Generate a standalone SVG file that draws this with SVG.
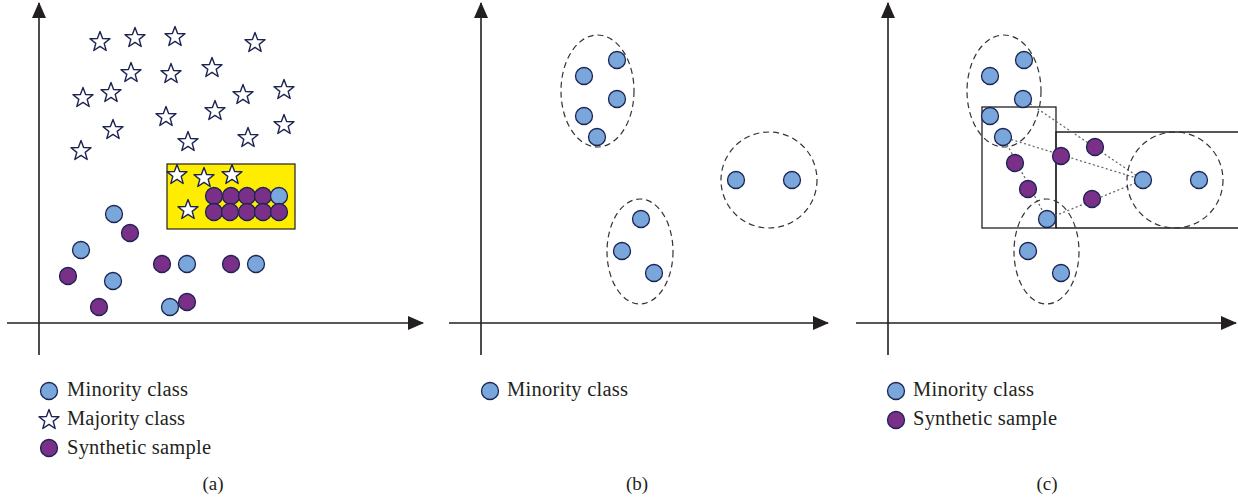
<svg xmlns="http://www.w3.org/2000/svg" xmlns:xlink="http://www.w3.org/1999/xlink" width="1238" height="500" viewBox="0 0 1238 500">
<style>
.ax{stroke:#231f20;stroke-width:1.6;fill:none}
.mn{fill:#79a7db;stroke:#1c2452;stroke-width:1.3}
.sy{fill:#7a2f88;stroke:#1c2452;stroke-width:1.3}
.st{fill:#ffffff;stroke:#1c2452;stroke-width:1.4;stroke-linejoin:round}
.dash{fill:none;stroke:#333333;stroke-width:1.2;stroke-dasharray:6 4}
.dot{fill:none;stroke:#666666;stroke-width:1.3;stroke-dasharray:1 3.5;stroke-linecap:round}
.box{fill:none;stroke:#231f20;stroke-width:1.3}
.lg{font-family:"Liberation Serif","Times New Roman",serif;font-size:20.5px;fill:#231f20}
.cap{font-family:"Liberation Serif","Times New Roman",serif;font-size:19px;fill:#231f20;text-anchor:middle}
</style>
<defs>
<marker id="arr" viewBox="0 0 16 14" refX="15" refY="7" markerWidth="16" markerHeight="14" markerUnits="userSpaceOnUse" orient="auto">
<path d="M0,0 L16,7 L0,14 Z" fill="#231f20"/>
</marker>
<path id="star" d="M0,-10.5 L2.6,-3.55 L10,-3.25 L4.2,1.35 L6.17,8.5 L0,4.4 L-6.17,8.5 L-4.2,1.35 L-10,-3.25 L-2.6,-3.55 Z"/>
</defs>
<rect width="1238" height="500" fill="#ffffff"/>

<!-- Panel (a) -->
<g id="axes-a">
<line class="ax" x1="39" y1="355" x2="39" y2="3" marker-end="url(#arr)"/>
<line class="ax" x1="7" y1="323" x2="423" y2="323" marker-end="url(#arr)"/>
</g>
<g id="majority-a">
<use href="#star" class="st" x="100" y="42"/>
<use href="#star" class="st" x="135" y="38"/>
<use href="#star" class="st" x="175" y="37"/>
<use href="#star" class="st" x="255" y="43"/>
<use href="#star" class="st" x="131" y="73"/>
<use href="#star" class="st" x="171" y="74"/>
<use href="#star" class="st" x="212" y="68"/>
<use href="#star" class="st" x="83" y="98"/>
<use href="#star" class="st" x="111" y="93"/>
<use href="#star" class="st" x="243" y="95"/>
<use href="#star" class="st" x="284" y="90"/>
<use href="#star" class="st" x="166" y="117"/>
<use href="#star" class="st" x="215" y="111"/>
<use href="#star" class="st" x="113" y="130"/>
<use href="#star" class="st" x="188" y="142"/>
<use href="#star" class="st" x="248" y="138"/>
<use href="#star" class="st" x="284" y="125"/>
<use href="#star" class="st" x="81" y="151"/>
</g>
<g id="region-a">
<rect x="167" y="164" width="128" height="65" fill="#ffed00" stroke="#231f20" stroke-width="1.2"/>
<use href="#star" class="st" x="177" y="175"/>
<use href="#star" class="st" x="204" y="178"/>
<use href="#star" class="st" x="232" y="175"/>
<use href="#star" class="st" x="188" y="210"/>
<circle class="sy" cx="214" cy="196" r="8.5"/>
<circle class="sy" cx="231" cy="196" r="8.5"/>
<circle class="sy" cx="247" cy="196" r="8.5"/>
<circle class="sy" cx="263" cy="196" r="8.5"/>
<circle class="mn" cx="279" cy="196" r="8.5"/>
<circle class="sy" cx="214" cy="212" r="8.5"/>
<circle class="sy" cx="230" cy="212" r="8.5"/>
<circle class="sy" cx="247" cy="212" r="8.5"/>
<circle class="sy" cx="263" cy="212" r="8.5"/>
<circle class="sy" cx="279" cy="212" r="8.5"/>
</g>
<g id="points-a">
<circle class="mn" cx="114" cy="214" r="8.5"/>
<circle class="sy" cx="130" cy="233" r="8.5"/>
<circle class="mn" cx="81" cy="250" r="8.5"/>
<circle class="sy" cx="68" cy="276" r="8.5"/>
<circle class="mn" cx="113" cy="281" r="8.5"/>
<circle class="sy" cx="99" cy="307" r="8.5"/>
<circle class="sy" cx="162" cy="264" r="8.5"/>
<circle class="mn" cx="187" cy="264" r="8.5"/>
<circle class="sy" cx="231" cy="264" r="8.5"/>
<circle class="mn" cx="256" cy="264" r="8.5"/>
<circle class="mn" cx="170" cy="307" r="8.5"/>
<circle class="sy" cx="187" cy="302" r="8.5"/>
</g>
<g id="legend-a">
<circle class="mn" cx="49" cy="391" r="8.5"/>
<text class="lg" x="67" y="396" textLength="121">Minority class</text>
<use href="#star" class="st" x="49" y="420"/>
<text class="lg" x="67" y="425" textLength="118">Majority class</text>
<circle class="sy" cx="49" cy="448" r="8.5"/>
<text class="lg" x="67" y="454" textLength="144">Synthetic sample</text>
</g>
<text class="cap" x="213" y="490">(a)</text>

<!-- Panel (b) -->
<g id="axes-b">
<line class="ax" x1="481" y1="355" x2="481" y2="3" marker-end="url(#arr)"/>
<line class="ax" x1="449" y1="323" x2="828" y2="323" marker-end="url(#arr)"/>
</g>
<g id="cluster-b1">
<ellipse class="dash" cx="597.5" cy="91" rx="36.5" ry="56"/>
<circle class="mn" cx="617" cy="60" r="8.5"/>
<circle class="mn" cx="584" cy="76" r="8.5"/>
<circle class="mn" cx="617" cy="99" r="8.5"/>
<circle class="mn" cx="584" cy="116" r="8.5"/>
<circle class="mn" cx="597" cy="137" r="8.5"/>
</g>
<g id="cluster-b2">
<ellipse class="dash" cx="640" cy="251.5" rx="33" ry="52.5"/>
<circle class="mn" cx="641" cy="219" r="8.5"/>
<circle class="mn" cx="622" cy="251" r="8.5"/>
<circle class="mn" cx="654" cy="273" r="8.5"/>
</g>
<g id="cluster-b3">
<circle class="dash" cx="769" cy="180" r="48"/>
<circle class="mn" cx="736" cy="180" r="8.5"/>
<circle class="mn" cx="792" cy="180" r="8.5"/>
</g>
<g id="legend-b">
<circle class="mn" cx="490" cy="391" r="8.5"/>
<text class="lg" x="507" y="396" textLength="121">Minority class</text>
</g>
<text class="cap" x="637" y="490">(b)</text>

<!-- Panel (c) -->
<g id="axes-c">
<line class="ax" x1="888" y1="355" x2="888" y2="3" marker-end="url(#arr)"/>
<line class="ax" x1="856" y1="323" x2="1236" y2="323" marker-end="url(#arr)"/>
</g>
<g id="boxes-c">
<rect class="box" x="982" y="107" width="74" height="121"/>
<path class="box" d="M1238,132 L1056,132 L1056,228 L1238,228"/>
</g>
<g id="connectors-c">
<line class="dot" x1="1023" y1="99" x2="1143" y2="180"/>
<line class="dot" x1="1003" y1="137" x2="1143" y2="180"/>
<line class="dot" x1="1047" y1="219" x2="1143" y2="180"/>
<line class="dot" x1="1003" y1="137" x2="1047" y2="219"/>
</g>
<g id="cluster-c1">
<ellipse class="dash" cx="1004" cy="91" rx="37" ry="56"/>
<circle class="mn" cx="1024" cy="60" r="8.5"/>
<circle class="mn" cx="990" cy="76" r="8.5"/>
<circle class="mn" cx="1023" cy="99" r="8.5"/>
<circle class="mn" cx="990" cy="116" r="8.5"/>
<circle class="mn" cx="1003" cy="137" r="8.5"/>
</g>
<g id="cluster-c2">
<ellipse class="dash" cx="1046.5" cy="251.5" rx="32.5" ry="52.5"/>
<circle class="mn" cx="1047" cy="219" r="8.5"/>
<circle class="mn" cx="1028" cy="251" r="8.5"/>
<circle class="mn" cx="1061" cy="273" r="8.5"/>
</g>
<g id="cluster-c3">
<circle class="dash" cx="1175" cy="180" r="48"/>
<circle class="mn" cx="1143" cy="180" r="8.5"/>
<circle class="mn" cx="1199" cy="180" r="8.5"/>
</g>
<g id="synthetic-c">
<circle class="sy" cx="1095" cy="147" r="8.5"/>
<circle class="sy" cx="1061" cy="156" r="8.5"/>
<circle class="sy" cx="1015" cy="163" r="8.5"/>
<circle class="sy" cx="1028" cy="189" r="8.5"/>
<circle class="sy" cx="1092" cy="199" r="8.5"/>
</g>
<g id="legend-c">
<circle class="mn" cx="896" cy="391" r="8.5"/>
<text class="lg" x="913" y="396" textLength="121">Minority class</text>
<circle class="sy" cx="896" cy="420" r="8.5"/>
<text class="lg" x="913" y="425" textLength="144">Synthetic sample</text>
</g>
<text class="cap" x="1047" y="490">(c)</text>
</svg>
